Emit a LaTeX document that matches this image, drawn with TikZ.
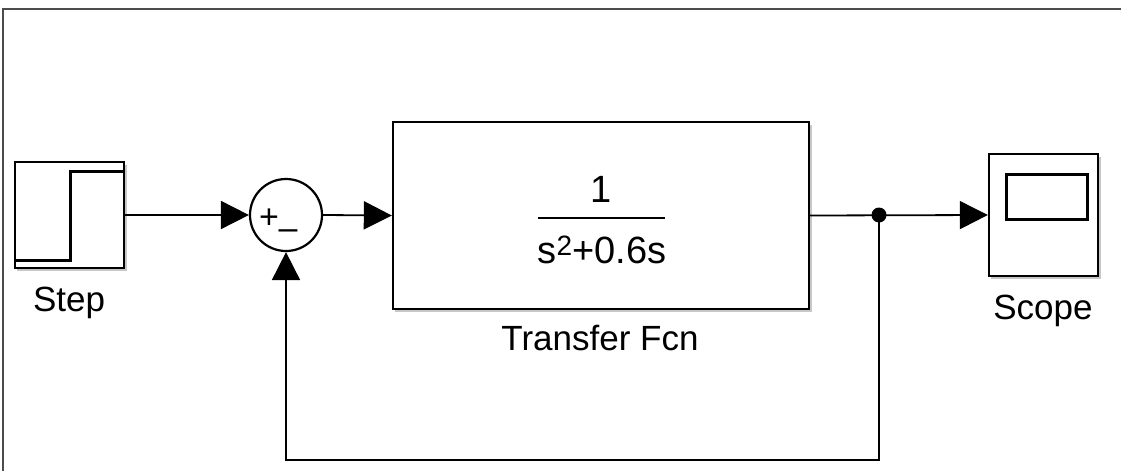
\documentclass[tikz,border=0pt]{standalone}
\usepackage{fontspec}
\setmainfont{Liberation Sans}
\usetikzlibrary{arrows.meta,calc}
\begin{document}
\begin{tikzpicture}[x=1pt,y=-1pt,
  blk/.style={draw=black,line width=2.4pt,fill=white,inner sep=0pt},
  shad/.style={fill=black!22},
  conn/.style={line width=1.8pt,draw=black},
  arr/.style={conn,-{Triangle[length=28pt,width=28pt]}},
  lbl/.style={font=\fontsize{35}{40}\selectfont,inner sep=0pt,anchor=center},
  sgn/.style={inner sep=0pt,font=\fontsize{34}{38}\selectfont},
  frame/.style={line width=2pt,draw=black!70}
]
\useasboundingbox (0,0) rectangle (1121,471);
\fill[white] (0,0) rectangle (1121,471);
\draw[frame] (3,471) -- (3,9) -- (1121,9);

% shadows
\fill[shad] (17,165) rectangle (127,271);
\fill[shad] (395,125) rectangle (812,312);
\fill[shad] (991,157) rectangle (1101,279);

% blocks
\node[blk,rectangle,minimum width=109pt,minimum height=106pt] (step) at (69.5,215) {};
\draw[line width=3pt,line join=miter] (15,260) -- (70,260) -- (70,171) -- (124,171);
\node[blk,circle,minimum size=72pt,line width=2.2pt] (sum) at (286,215) {};
\node[sgn] (plus) at (269,219) {+};
\node[sgn] (minus) at (288,235) {–};
\node[blk,rectangle,minimum width=416pt,minimum height=187pt] (tf) at (601,215.5) {};
\node[lbl,font=\fontsize{38}{42}\selectfont,anchor=base] (num) at (601,202) {1};
\draw[line width=2.6pt] (538,218) -- (665,218);
\node[lbl,font=\fontsize{38}{42}\selectfont,anchor=base] (den) at (602,263) {s\raisebox{8pt}{\fontsize{28}{30}\selectfont 2}+0.6s};
\node[blk,rectangle,minimum width=109pt,minimum height=122pt] (scope) at (1043.5,215) {};
\draw[line width=3pt] (1006,174) rectangle (1087,219);

% labels
\node[lbl] (steplbl) at (69,303) {Step};
\node[lbl] (tflbl) at (600,338) {Transfer Fcn};
\node[lbl] (scopelbl) at (1043,311) {Scope};

% junction
\coordinate (j) at (879,215);
\coordinate (fbr) at (879,460);
\coordinate (fbl) at (286,460);

% connectors
\draw[arr] (step.east) -- (sum.west);
\draw[arr] (sum.east) -- (tf.west);
\draw[arr] (tf.east) -- (scope.west);
\draw[arr] (j) -- (fbr) -- (fbl) -- (sum.south);
\fill (j) circle (7.5pt);
\end{tikzpicture}
\end{document}
